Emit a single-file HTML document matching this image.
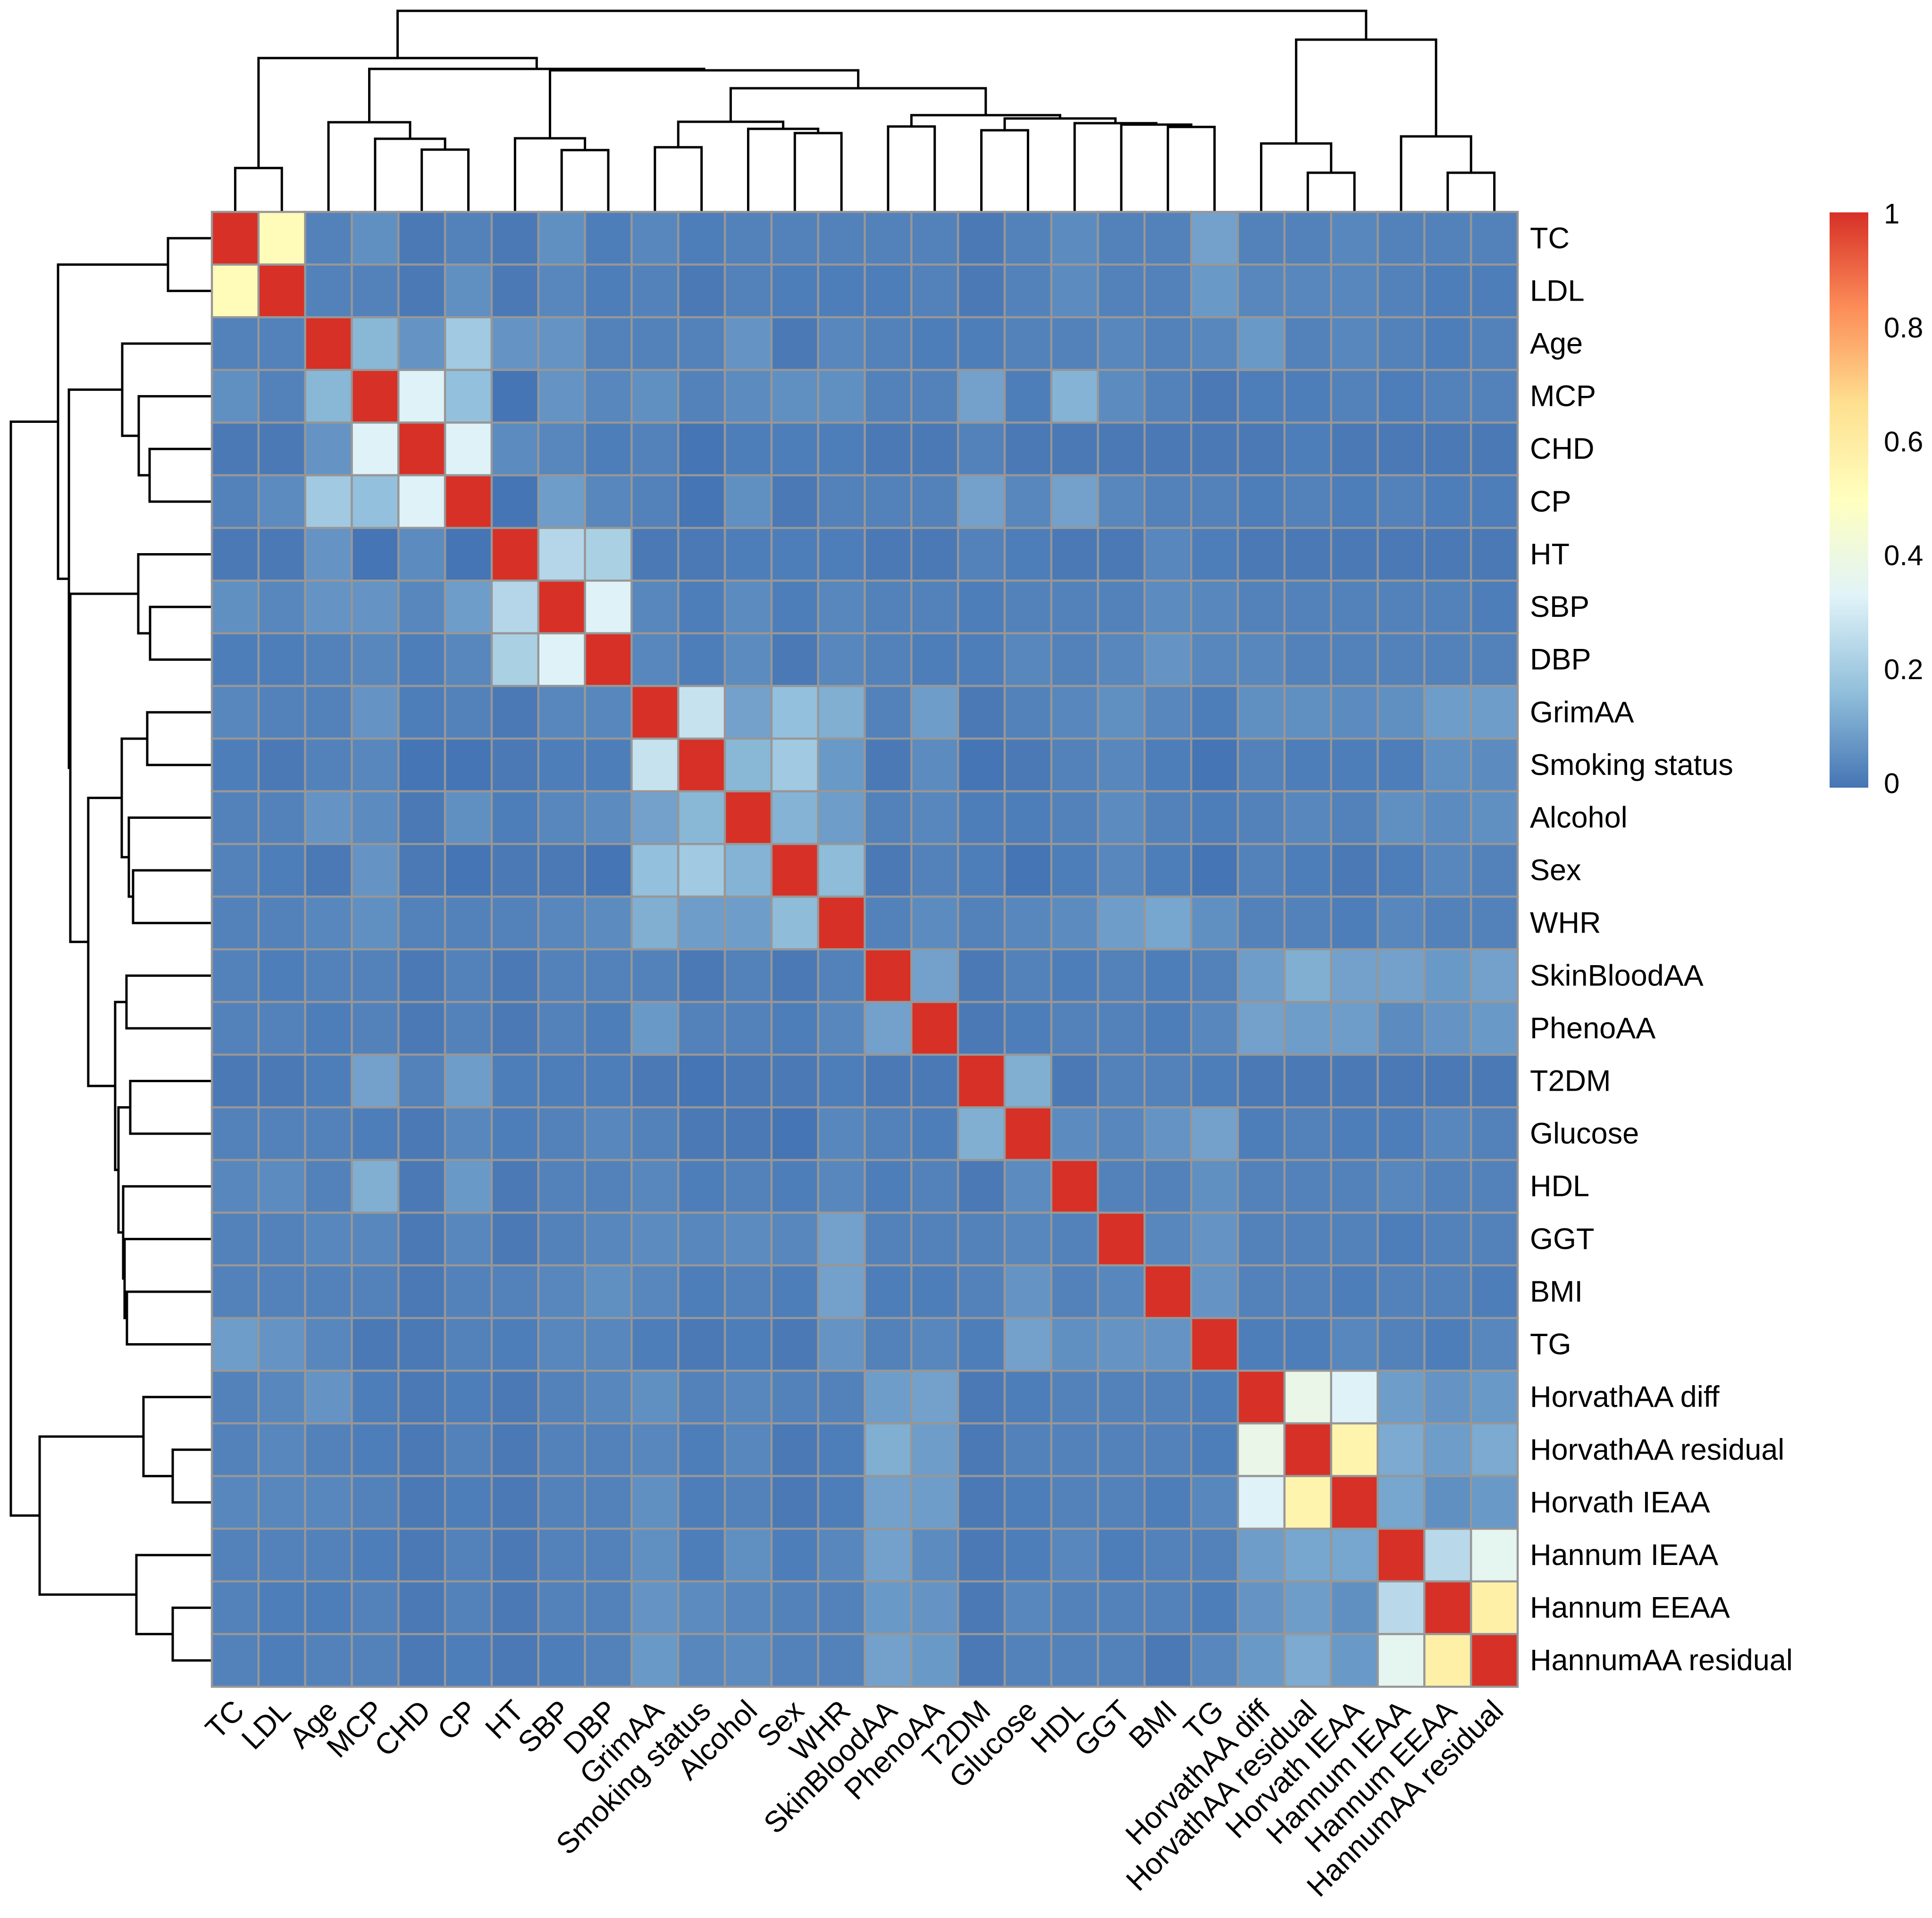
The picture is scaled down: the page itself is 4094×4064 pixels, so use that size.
<!DOCTYPE html>
<html><head><meta charset="utf-8"><style>
html,body{margin:0;padding:0;background:#fff;}
svg{display:block;}
text{font-family:"Liberation Sans",Arial,sans-serif;fill:#000;}
</style></head><body>
<svg id="chart" width="4094" height="4064" viewBox="0 0 4094 4064" xmlns="http://www.w3.org/2000/svg">
<rect width="4094" height="4064" fill="#fff"/>
<g id="topDendro"></g>
<g id="leftDendro"></g>
<g id="cells"></g>
<g id="rowLabels"></g>
<g id="colLabels"></g>
<g id="legend"></g>
</svg>
<script>
const labels = ["TC","LDL","Age","MCP","CHD","CP","HT","SBP","DBP","GrimAA","Smoking status","Alcohol","Sex","WHR","SkinBloodAA","PhenoAA","T2DM","Glucose","HDL","GGT","BMI","TG","HorvathAA diff","HorvathAA residual","Horvath IEAA","Hannum IEAA","Hannum EEAA","HannumAA residual"];
const corr = [
[1,.52,.03,.06,.01,.03,.01,.06,.02,.04,.02,.03,.03,.03,.03,.03,.01,.03,.05,.03,.03,.10,.03,.03,.04,.03,.03,.03],
[.52,1,.03,.03,.01,.06,.01,.04,.02,.03,.01,.03,.02,.02,.02,.03,.01,.03,.05,.03,.03,.08,.04,.04,.04,.03,.02,.02],
[.03,.03,1,.15,.07,.20,.07,.07,.03,.03,.03,.07,.01,.04,.03,.02,.02,.03,.03,.04,.03,.04,.08,.03,.04,.03,.02,.03],
[.06,.03,.15,1,.33,.17,0,.07,.04,.06,.03,.05,.06,.06,.03,.03,.10,.02,.14,.05,.03,.01,.02,.02,.03,.02,.03,.03],
[.01,.01,.07,.33,1,.33,.05,.04,.02,.03,0,.02,.02,.02,.01,.01,.03,.01,.01,.01,.01,.01,.01,.02,.01,.01,.01,.01],
[.03,.05,.20,.17,.33,1,0,.09,.04,.03,0,.06,.01,.03,.03,.03,.10,.04,.10,.04,.03,.03,.02,.03,.02,.03,.02,.02],
[.01,.01,.07,0,.05,0,1,.24,.22,.01,.01,.02,.02,.02,.01,.01,.03,.02,.01,.01,.04,.02,.01,.01,.01,.01,.01,.01],
[.06,.04,.07,.07,.04,.09,.24,1,.33,.04,.02,.05,.02,.04,.03,.03,.02,.03,.03,.03,.05,.04,.03,.03,.03,.03,.03,.02],
[.02,.02,.03,.04,.02,.04,.22,.33,1,.04,.02,.05,.01,.04,.03,.02,.02,.04,.03,.04,.07,.04,.04,.03,.03,.03,.03,.03],
[.04,.03,.03,.07,.02,.03,.01,.04,.04,1,.28,.10,.17,.13,.03,.09,.01,.03,.04,.06,.04,.02,.06,.06,.05,.06,.09,.09],
[.02,.01,.03,.04,0,0,.01,.02,.02,.28,1,.15,.20,.08,.01,.05,0,.01,.03,.04,.02,0,.03,.02,.02,.02,.06,.05],
[.03,.03,.07,.05,.01,.06,.02,.04,.05,.10,.15,1,.14,.09,.03,.04,.02,.02,.03,.05,.03,.02,.03,.04,.03,.06,.05,.06],
[.03,.02,.01,.07,.01,0,.01,.01,0,.17,.20,.14,1,.16,.01,.03,.02,0,.02,.04,.02,0,.03,.02,.01,.02,.04,.03],
[.03,.03,.04,.06,.03,.03,.03,.04,.05,.13,.09,.09,.16,1,.03,.05,.03,.04,.05,.09,.11,.06,.03,.03,.02,.04,.03,.03],
[.03,.02,.03,.03,.01,.03,.01,.03,.03,.03,.01,.03,.01,.03,1,.10,.01,.03,.02,.03,.02,.03,.09,.13,.10,.10,.08,.10],
[.03,.03,.02,.03,.01,.03,.01,.03,.02,.08,.03,.03,.02,.04,.10,1,.01,.02,.03,.03,.02,.04,.10,.09,.09,.05,.07,.08],
[.01,.01,.02,.10,.03,.09,.02,.02,.02,.01,0,.01,.01,.02,.01,.01,1,.13,.01,.03,.03,.02,.01,.01,.01,.01,.01,.01],
[.03,.03,.03,.02,.01,.04,.02,.03,.04,.03,.01,.01,0,.04,.03,.02,.13,1,.05,.04,.07,.10,.02,.03,.02,.02,.04,.03],
[.04,.05,.03,.13,.01,.08,.01,.03,.03,.04,.02,.03,.02,.04,.02,.03,.01,.05,1,.03,.03,.06,.03,.03,.03,.04,.03,.03],
[.03,.03,.04,.04,.01,.04,.01,.03,.04,.05,.04,.05,.04,.10,.03,.03,.03,.04,.03,1,.04,.07,.03,.03,.03,.02,.03,.03],
[.03,.03,.03,.03,.01,.03,.03,.04,.06,.04,.02,.03,.02,.10,.02,.02,.03,.07,.03,.04,1,.07,.03,.03,.02,.03,.03,.02],
[.09,.07,.04,.01,.01,.03,.02,.04,.04,.02,.01,.02,.01,.07,.03,.04,.02,.10,.06,.07,.07,1,.02,.02,.04,.03,.02,.04],
[.03,.04,.07,.02,.01,.02,.01,.03,.04,.06,.03,.04,.03,.03,.09,.10,.01,.02,.03,.03,.03,.02,1,.38,.33,.09,.07,.08],
[.03,.04,.03,.02,.01,.03,.01,.03,.03,.04,.02,.04,.01,.02,.13,.09,.01,.03,.03,.03,.03,.02,.38,1,.56,.12,.09,.12],
[.04,.04,.04,.03,.01,.02,.01,.03,.03,.06,.02,.03,.01,.02,.10,.09,.01,.02,.03,.03,.02,.04,.33,.56,1,.11,.06,.08],
[.03,.03,.03,.02,.01,.03,.01,.03,.03,.06,.02,.06,.02,.04,.10,.05,.01,.02,.04,.02,.03,.03,.09,.11,.11,1,.25,.36],
[.03,.02,.02,.03,.01,.03,.01,.03,.03,.07,.05,.04,.03,.03,.08,.07,.01,.04,.03,.03,.03,.02,.07,.09,.06,.25,1,.58],
[.03,.02,.03,.03,.01,.02,.01,.02,.03,.08,.04,.05,.03,.03,.10,.08,.01,.03,.03,.03,.01,.04,.08,.12,.08,.36,.58,1]
];
// dendrogram merges: leaves 0..27, internal nodes referenced as 100+k (k = index in merges)
const mergeLeft  = [0,4,3,2,7,6,12,11,9,108,14,16,20,19,18,111,110,109,105,103,100,23,22,26,25,122,120];
const mergeRight = [1,5,101,102,8,104,13,106,10,107,15,17,21,112,113,114,115,116,117,118,119,24,121,27,123,124,125];
const mergeHeight= [93,132,155,190,131,156,167,176,137,191,181,173,180,185,188,198,205,262,300,303,326,83,145,83,160,365,426];
const legendTicks = [0,0.2,0.4,0.6,0.8,1];

const NS="http://www.w3.org/2000/svg";
const X0=449, X1=3216, Y0=449, Y1=3574, N=labels.length;
const cw=(X1-X0)/N, ch=(Y1-Y0)/N;
const stops=["#4575B4","#91BFDB","#E0F3F8","#FFFFBF","#FEE090","#FC8D59","#D73027"];
function hex(c){return [parseInt(c.substr(1,2),16),parseInt(c.substr(3,2),16),parseInt(c.substr(5,2),16)];}
function color(v){v=Math.max(0,Math.min(1,v));const t=v*6;const i=Math.min(5,Math.floor(t));const f=t-i;const a=hex(stops[i]),b=hex(stops[i+1]);
 return "rgb("+a.map((x,k)=>Math.round(x+(b[k]-x)*f)).join(",")+")";}
function xc(j){return X0+cw*(j+0.5);}
function yc(i){return Y0+ch*(i+0.5);}
function mk(tag,attrs,parent){const e=document.createElementNS(NS,tag);for(const k in attrs)e.setAttribute(k,attrs[k]);parent.appendChild(e);return e;}

const cells=document.getElementById('cells');
for(let i=0;i<N;i++)for(let j=0;j<N;j++){
 const r=mk('rect',{x:X0+cw*j,y:Y0+ch*i,width:cw,height:ch,fill:color(corr[i][j]),stroke:"#979797","stroke-width":4.5},cells);
 
 
}
const rl=document.getElementById('rowLabels');
labels.forEach((l,i)=>{const t=mk('text',{x:X1+26,y:yc(i),'font-size':63,'dominant-baseline':'central'},rl);t.textContent=l;
 
 });
const cl=document.getElementById('colLabels');
labels.forEach((l,j)=>{const x=xc(j)+8,y=Y1+40;const t=mk('text',{x:x,y:y,'font-size':63,'text-anchor':'end','dominant-baseline':'central',transform:'rotate(-45 '+x+' '+y+')'},cl);t.textContent=l;
 
 });

// dendrograms
function pos(n){ if(n<100) return {p:n+0.5,h:0}; const k=n-100; const a=pos(mergeLeft[k]),b=pos(mergeRight[k]); return {p:(a.p+b.p)/2,h:mergeHeight[k],a:a,b:b}; }
const td=document.getElementById('topDendro'), ld=document.getElementById('leftDendro');
for(let k=0;k<mergeHeight.length;k++){
 const a=pos(mergeLeft[k]), b=pos(mergeRight[k]), h=mergeHeight[k];
 const ax=X0+a.p*cw, bx=X0+b.p*cw;
 const p1=mk('path',{d:`M${ax},${Y0-a.h}V${Y0-h}H${bx}V${Y0-b.h}`,fill:'none',stroke:'#000','stroke-width':5},td);
 
 
 const ay=Y0+a.p*ch, by=Y0+b.p*ch;
 const p2=mk('path',{d:`M${X0-a.h},${ay}H${X0-h}V${by}H${X0-b.h}`,fill:'none',stroke:'#000','stroke-width':5},ld);
 
 
}

// legend
const lg=document.getElementById('legend');
const LX=3877, LW=82, LY0=450, LY1=1669;
const defs=mk('defs',{},lg);
const grad=mk('linearGradient',{id:'cg',x1:0,y1:1,x2:0,y2:0},defs);
stops.forEach((c,i)=>mk('stop',{offset:i/6,'stop-color':c},grad));
const bar=mk('rect',{x:LX,y:LY0,width:LW,height:LY1-LY0,fill:'url(#cg)'},lg);


legendTicks.forEach(v=>{const y=1660-v*(1660-453);const t=mk('text',{x:3992,y:y,'font-size':60,'dominant-baseline':'central'},lg);t.textContent=String(v);
 
 });
</script>
</body></html>
